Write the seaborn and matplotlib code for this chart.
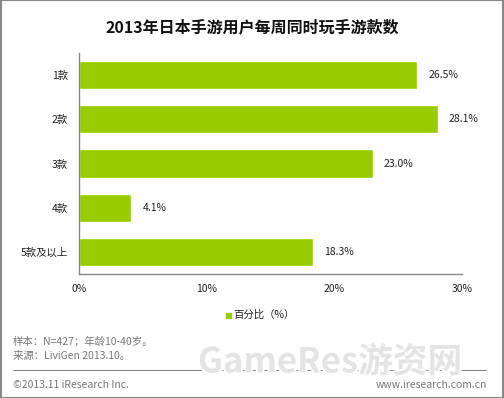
import pandas as pd
import matplotlib
matplotlib.use("Agg")
import matplotlib.pyplot as plt
import matplotlib.patheffects as pe
import seaborn as sns

# chart data
categories = ["1款", "2款", "3款", "4款", "5款及以上"]
percent = [26.5, 28.1, 23.0, 4.1, 18.3]
x_ticks = [0, 10, 20, 30]
x_tick_labels = ["0%", "10%", "20%", "30%"]

df = pd.DataFrame({"category": categories, "percent": percent})

sns.set_style("white")
plt.rcParams["font.family"] = ["Noto Sans CJK SC", "DejaVu Sans"]

fig = plt.figure(figsize=(5.04, 3.98), dpi=100)
ax = fig.add_axes([0.1567, 0.3116, 0.76, 0.555])

sns.barplot(data=df, x="percent", y="category", color="#99CC00",
            width=0.64, saturation=1, ax=ax)

for c in ax.containers:
    ax.bar_label(c, labels=[f"{v:.1f}%" for v in percent], padding=8,
                 fontsize=7.5, color="#222222")

ax.set_xlim(0, 30)
ax.set_ylim(4.5, -0.5)
ax.set_xticks(x_ticks)
ax.set_xticklabels(x_tick_labels)
ax.tick_params(axis="both", length=0, labelsize=7.5, colors="#222222")
ax.tick_params(axis="x", pad=7)
ax.tick_params(axis="y", pad=8)
ax.set_xlabel("")
ax.set_ylabel("")
sns.despine(ax=ax)
for s in ["left", "bottom"]:
    ax.spines[s].set_color("#888888")
    ax.spines[s].set_linewidth(1)

# title
fig.text(0.5, 0.932, "2013年日本手游用户每周同时玩手游款数", ha="center", va="center",
         fontsize=11.5, fontweight="bold", color="#111111")

# legend
fig.patches.append(plt.Rectangle((226 / 504, 1 - 318 / 398), 5 / 504, 5 / 398,
                                 transform=fig.transFigure, color="#99CC00"))
fig.text(233 / 504, 1 - 315 / 398, "百分比（%）", ha="left", va="center",
         fontsize=7.5, color="#222222")

# watermark
fig.text(198 / 504, 1 - 362 / 398, "GameRes游资网", ha="left", va="center",
         fontsize=25, fontweight="bold", color="#e4e4e4",
         path_effects=[pe.withStroke(linewidth=2.5, foreground="white")])

# footer
gray = "#777777"
fig.text(13 / 504, 1 - 341 / 398, "样本：N=427；年龄10-40岁。", ha="left", va="center",
         fontsize=7.5, color=gray)
fig.text(13 / 504, 1 - 356 / 398, "来源：LiviGen 2013.10。", ha="left", va="center",
         fontsize=7.5, color=gray)
fig.add_artist(plt.Line2D([13 / 504, 486 / 504], [1 - 370 / 398, 1 - 370 / 398],
                          transform=fig.transFigure, color="#888888", linewidth=0.8))
fig.text(13 / 504, 1 - 385 / 398, "©2013.11 iResearch Inc.", ha="left", va="center",
         fontsize=7.5, color=gray)
fig.text(487 / 504, 1 - 385 / 398, "www.iresearch.com.cn", ha="right", va="center",
         fontsize=7.5, color=gray)

# outer frame
fig.patches.append(plt.Rectangle((0.001, 0.001), 0.998, 0.998, transform=fig.transFigure,
                                 fill=False, edgecolor="#888888", linewidth=1.5))

fig.savefig("out.png", dpi=100)
